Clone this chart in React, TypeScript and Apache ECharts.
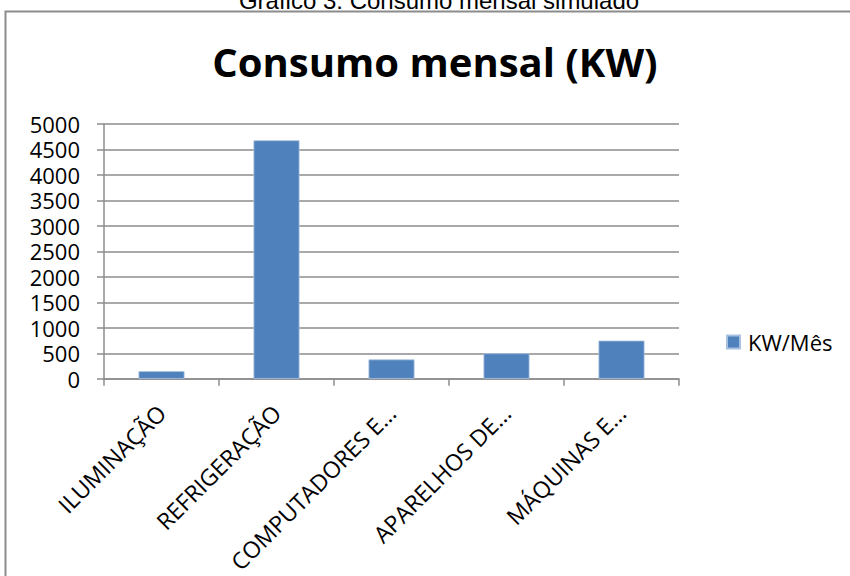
import React, { useEffect, useRef } from "react";
import * as echarts from "echarts";

const categories = ["ILUMINAÇÃO", "REFRIGERAÇÃO", "COMPUTADORES E...", "APARELHOS DE...", "MÁQUINAS E..."];
const seriesName = "KW/Mês";
const values = [150, 4680, 380, 500, 750];
const chartTitle = "Consumo mensal (KW)";
const caption = "Gráfico 3: Consumo mensal simulado";

export default function App() {
  const ref = useRef<HTMLDivElement>(null);
  useEffect(() => {
    document.body.style.margin = "0";
    const chart = echarts.init(ref.current!, null, { renderer: "svg" });
    chart.setOption({
      animation: false,
      backgroundColor: "#ffffff",
      graphic: [
        {
          type: "rect",
          shape: { x: 5.5, y: 11.5, width: 900, height: 700 },
          style: { fill: "#ffffff", stroke: "#8c8c8c", lineWidth: 2 },
          z: -10,
        },
        {
          type: "text",
          x: 439,
          y: 12,
          style: {
            text: caption,
            font: "24px 'Liberation Sans', Arial, sans-serif",
            fill: "#000000",
            align: "center",
            verticalAlign: "bottom",
          },
        },
        {
          type: "text",
          x: 435,
          y: 61,
          style: {
            text: chartTitle,
            font: "bold 40px 'Open Sans', sans-serif",
            fill: "#000000",
            align: "center",
            verticalAlign: "middle",
          },
        },
      ],
      legend: {
        data: [seriesName],
        left: 721,
        top: 326,
        icon: "rect",
        itemWidth: 13,
        itemHeight: 13,
        textStyle: { fontFamily: "'Open Sans', sans-serif", fontSize: 22, color: "#000", padding: [0, 0, 0, 3] },
      },
      grid: { left: 104, right: 171, top: 124, bottom: 197, containLabel: false },
      xAxis: {
        type: "category",
        data: categories,
        boundaryGap: true,
        axisLine: { lineStyle: { color: "#8c8c8c", width: 1.5 } },
        axisTick: { show: true, length: 7, lineStyle: { color: "#8c8c8c", width: 1.5 } },
        axisLabel: {
          rotate: 45,
          margin: 30,
          interval: 0,
          fontFamily: "'Open Sans', sans-serif",
          fontSize: 23,
          color: "#000",
        },
      },
      yAxis: {
        type: "value",
        min: 0,
        max: 5000,
        interval: 500,
        axisLine: { show: true, lineStyle: { color: "#8c8c8c", width: 1.5 } },
        axisTick: { show: true, inside: false, length: 7, lineStyle: { color: "#8c8c8c", width: 1.5 } },
        splitLine: { show: true, lineStyle: { color: "#8c8c8c", width: 1.5 } },
        axisLabel: {
          margin: 24,
          fontFamily: "'Open Sans', sans-serif",
          fontSize: 22,
          lineHeight: 24,
          color: "#000",
          formatter: (v: number) => String(v),
        },
      },
      series: [
        {
          name: seriesName,
          type: "bar",
          data: values,
          barWidth: "40%",
          itemStyle: { color: "#4f81bd", borderColor: "#a9c1e0", borderWidth: 0.8 },
        },
      ],
    });
    return () => chart.dispose();
  }, []);
  return <div ref={ref} style={{ width: 850, height: 576 }} />;
}
